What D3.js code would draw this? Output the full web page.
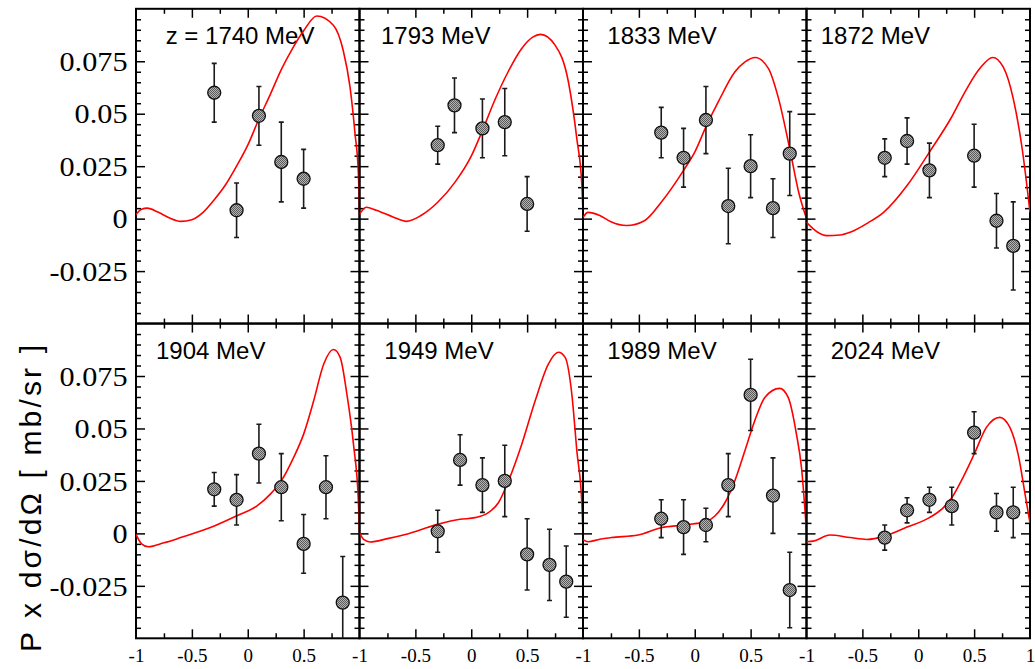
<!DOCTYPE html>
<html>
<head>
<meta charset="utf-8">
<script src="https://cdn.jsdelivr.net/npm/d3@7"></script>
<style>
  html, body { margin: 0; padding: 0; background: #fff; }
  svg { display: block; }
</style>
</head>
<body>
<script>
// ---------------- DATA ----------------
const panelLabels = ["z = 1740 MeV", "1793 MeV", "1833 MeV", "1872 MeV",
                     "1904 MeV", "1949 MeV", "1989 MeV", "2024 MeV"];

const cos1740 = [-0.3, -0.1, 0.1, 0.3, 0.5];
const val1740 = [0.060, 0.004, 0.049, 0.027, 0.019];
const err1740 = [0.014, 0.013, 0.014, 0.019, 0.014];

const cos1793 = [-0.3, -0.15, 0.1, 0.3, 0.5];
const val1793 = [0.035, 0.054, 0.043, 0.046, 0.007];
const err1793 = [0.009, 0.013, 0.014, 0.016, 0.013];

const cos1833 = [-0.3, -0.1, 0.1, 0.3, 0.5, 0.7, 0.85];
const val1833 = [0.041, 0.029, 0.047, 0.006, 0.025, 0.005, 0.031];
const err1833 = [0.012, 0.014, 0.016, 0.018, 0.015, 0.014, 0.020];

const cos1872 = [-0.3, -0.1, 0.1, 0.5, 0.7, 0.85];
const val1872 = [0.029, 0.037, 0.023, 0.030, -0.001, -0.013];
const err1872 = [0.009, 0.011, 0.013, 0.015, 0.013, 0.021];

const cos1904 = [-0.3, -0.1, 0.1, 0.3, 0.5, 0.7, 0.85];
const val1904 = [0.021, 0.016, 0.038, 0.022, -0.005, 0.022, -0.033];
const err1904 = [0.008, 0.012, 0.014, 0.016, 0.014, 0.015, 0.022];

const cos1949 = [-0.3, -0.1, 0.1, 0.3, 0.5, 0.7, 0.85];
const val1949 = [0.001, 0.035, 0.023, 0.025, -0.010, -0.015, -0.023];
const err1949 = [0.010, 0.012, 0.013, 0.017, 0.017, 0.017, 0.017];

const cos1989 = [-0.3, -0.1, 0.1, 0.3, 0.5, 0.7, 0.85];
const val1989 = [0.007, 0.003, 0.004, 0.023, 0.066, 0.018, -0.027];
const err1989 = [0.009, 0.013, 0.008, 0.015, 0.017, 0.018, 0.018];

const cos2024 = [-0.3, -0.1, 0.1, 0.3, 0.5, 0.7, 0.85];
const val2024 = [-0.002, 0.011, 0.016, 0.013, 0.048, 0.010, 0.010];
const err2024 = [0.006, 0.006, 0.006, 0.009, 0.010, 0.009, 0.012];

// model curves (cos theta, value)
const model1740 = [[-1, 0.002], [-0.95, 0.0045], [-0.9, 0.005], [-0.8, 0.003], [-0.7, 0.0003], [-0.6, -0.0013],
  [-0.5, -0.0005], [-0.4, 0.003], [-0.3, 0.009], [-0.2, 0.016], [-0.1, 0.025], [0, 0.035], [0.1, 0.0475],
  [0.2, 0.059], [0.3, 0.071], [0.4, 0.081], [0.5, 0.0895], [0.617, 0.0966], [0.766, 0.0922], [0.855, 0.080],
  [0.915, 0.0628], [0.96, 0.0405], [0.99, 0.0215], [1.0, 0.002]];
const model1793 = [[-1, 0.002], [-0.94, 0.0054], [-0.85, 0.004], [-0.7, 0.0008], [-0.58, -0.0013], [-0.45, 0.0015],
  [-0.3, 0.0078], [-0.145, 0.0174], [0.0, 0.0298], [0.1, 0.042], [0.21, 0.0564], [0.33, 0.070], [0.45, 0.081],
  [0.55, 0.0865], [0.62, 0.0878], [0.75, 0.0827], [0.87, 0.065], [0.945, 0.038], [0.99, 0.0158], [1.0, 0.003]];
const model1833 = [[-1, 0.0006], [-0.955, 0.003], [-0.85, 0.0015], [-0.75, -0.0015], [-0.61, -0.0033], [-0.45, -0.001],
  [-0.3, 0.0078], [-0.1, 0.023], [0.0, 0.0317], [0.1, 0.0437], [0.21, 0.0556], [0.36, 0.070], [0.45, 0.0747],
  [0.54, 0.0768], [0.66, 0.0715], [0.75, 0.0572], [0.85, 0.0333], [0.93, 0.0126], [1.0, 0.0]];
const model1872 = [[-1, -0.0018], [-0.9, -0.0065], [-0.82, -0.0081], [-0.7, -0.0078], [-0.61, -0.0065], [-0.45, -0.002],
  [-0.31, 0.003], [-0.1, 0.0158], [0.1, 0.0317], [0.29, 0.0476], [0.435, 0.062], [0.55, 0.0715], [0.667, 0.0768],
  [0.76, 0.0723], [0.85, 0.0572], [0.93, 0.0333], [1.0, 0.003]];
const model1904 = [[-1, -0.0005], [-0.95, -0.005], [-0.89, -0.0064], [-0.75, -0.0045], [-0.6, -0.002], [-0.3, 0.0035],
  [-0.1, 0.0083], [0.08, 0.013], [0.2, 0.0186], [0.3, 0.025], [0.41, 0.0361], [0.5, 0.0473], [0.59, 0.0632],
  [0.68, 0.0807], [0.767, 0.0876], [0.827, 0.0839], [0.887, 0.0664], [0.946, 0.0425], [0.99, 0.0154], [1.0, 0.001]];
const model1949 = [[-1, 0.0003], [-0.96, -0.003], [-0.906, -0.0041], [-0.75, -0.0025], [-0.59, -0.0005], [-0.3, 0.0043],
  [-0.1, 0.0067], [0.035, 0.0075], [0.153, 0.0099], [0.243, 0.0146], [0.333, 0.025], [0.452, 0.0425], [0.572, 0.0632],
  [0.69, 0.0807], [0.78, 0.0863], [0.84, 0.0839], [0.9, 0.0664], [0.945, 0.0393], [0.99, 0.0139], [1.0, 0.0]];
const model1989 = [[-1, -0.003], [-0.955, -0.004], [-0.85, -0.0028], [-0.746, -0.002], [-0.507, -0.0008], [-0.3, 0.0027],
  [-0.1, 0.004], [0.1, 0.0056], [0.18, 0.0083], [0.27, 0.0146], [0.358, 0.025], [0.448, 0.0393], [0.537, 0.0537],
  [0.627, 0.0648], [0.76, 0.0691], [0.836, 0.0648], [0.91, 0.0473], [0.955, 0.0314], [1.0, 0.001]];
const model2024 = [[-1, -0.004], [-0.94, -0.0037], [-0.79, -0.0008], [-0.61, -0.002], [-0.46, -0.0029], [-0.3, -0.0013],
  [-0.1, 0.003], [0.1, 0.0075], [0.225, 0.0123], [0.3, 0.017], [0.4, 0.0266], [0.5, 0.0377], [0.61, 0.0505],
  [0.73, 0.0553], [0.82, 0.0505], [0.9, 0.0361], [0.956, 0.0186], [1.0, 0.005]];

const yTickLabels = [-0.025, 0, 0.025, 0.05, 0.075];
const xTickLabels = [-1, -0.5, 0, 0.5];

// ---------------- LAYOUT ----------------
const panels = [
  [cos1740, val1740, err1740, model1740], [cos1793, val1793, err1793, model1793],
  [cos1833, val1833, err1833, model1833], [cos1872, val1872, err1872, model1872],
  [cos1904, val1904, err1904, model1904], [cos1949, val1949, err1949, model1949],
  [cos1989, val1989, err1989, model1989], [cos2024, val2024, err2024, model2024]
];
const labelOffsets = [29.7, 21.5, 24.3, 14.2, 20, 24.8, 24.3, 24.2];

const W = 1035, H = 669;
const marginLeft = 136, marginTop = 8.8, pw = 223.5, ph = 314.75;
const serif = "'Liberation Serif', 'Times New Roman', Times, serif";
const sans = "'Liberation Sans', Arial, Helvetica, sans-serif";

const svg = d3.select("body").append("svg").attr("width", W).attr("height", H);
const defs = svg.append("defs");
const pat = defs.append("pattern").attr("id", "dots")
  .attr("width", 2).attr("height", 2).attr("patternUnits", "userSpaceOnUse");
pat.append("rect").attr("width", 2).attr("height", 2).attr("fill", "#b4b4b4");
pat.append("rect").attr("x", 0).attr("y", 0).attr("width", 1).attr("height", 1).attr("fill", "#5a5a5a");
pat.append("rect").attr("x", 1).attr("y", 1).attr("width", 1).attr("height", 1).attr("fill", "#5a5a5a");

const yMajor = [-0.025, 0, 0.025, 0.05, 0.075];
const yMinor = d3.range(-45, 100, 5).filter(d => d % 25 !== 0).map(d => d / 1000);
const xMajor = [-0.5, 0, 0.5];
const xMinor = [-0.75, -0.25, 0.25, 0.75];

const fmt = d => String(d);

panels.forEach((p, i) => {
  const col = i % 4, row = Math.floor(i / 4);
  const px = marginLeft + col * pw, py = marginTop + row * ph;
  const x = d3.scaleLinear().domain([-1, 1]).range([px, px + pw]);
  const y = d3.scaleLinear().domain([-0.05, 0.1]).range([py + ph, py]);
  const g = svg.append("g");

  defs.append("clipPath").attr("id", "clip" + i)
    .append("rect").attr("x", px).attr("y", py).attr("width", pw).attr("height", ph);

  const tickStyle = sel => {
    sel.select(".domain").remove();
    sel.selectAll("line").attr("stroke", "#000").attr("stroke-width", 1.5);
  };
  g.append("g").attr("transform", `translate(0,${py + ph})`)
    .call(d3.axisBottom(x).tickValues(xMajor).tickSize(-9).tickFormat("")).call(tickStyle);
  g.append("g").attr("transform", `translate(0,${py + ph})`)
    .call(d3.axisBottom(x).tickValues(xMinor).tickSize(-5).tickFormat("")).call(tickStyle);
  g.append("g").attr("transform", `translate(0,${py})`)
    .call(d3.axisTop(x).tickValues(xMajor).tickSize(-9).tickFormat("")).call(tickStyle);
  g.append("g").attr("transform", `translate(0,${py})`)
    .call(d3.axisTop(x).tickValues(xMinor).tickSize(-5).tickFormat("")).call(tickStyle);
  g.append("g").attr("transform", `translate(${px},0)`)
    .call(d3.axisLeft(y).tickValues(yMajor).tickSize(-9).tickFormat("")).call(tickStyle);
  g.append("g").attr("transform", `translate(${px},0)`)
    .call(d3.axisLeft(y).tickValues(yMinor).tickSize(-5).tickFormat("")).call(tickStyle);
  g.append("g").attr("transform", `translate(${px + pw},0)`)
    .call(d3.axisRight(y).tickValues(yMajor).tickSize(-9).tickFormat("")).call(tickStyle);
  g.append("g").attr("transform", `translate(${px + pw},0)`)
    .call(d3.axisRight(y).tickValues(yMinor).tickSize(-5).tickFormat("")).call(tickStyle);

  g.append("rect").attr("x", px).attr("y", py).attr("width", pw).attr("height", ph)
    .attr("fill", "none").attr("stroke", "#000").attr("stroke-width", 2);

  if (col === 0) {
    const ya = g.append("g").attr("transform", `translate(${px},0)`)
      .call(d3.axisLeft(y).tickValues(yTickLabels).tickSize(0).tickPadding(8).tickFormat(fmt));
    ya.select(".domain").remove();
    ya.attr("font-family", serif).attr("font-size", 27);
    ya.selectAll("text")
      .attr("x", -8.5 / 1.12)
      .attr("transform", "scale(1.12,1)")
      .attr("dy", "0.34em")
      .attr("font-family", serif)
      .style("font-family", serif).style("font-size", "27px").attr("fill", "#000");
  }
  if (row === 1) {
    const vals = col === 3 ? xTickLabels.concat([1]) : xTickLabels;
    const xa = g.append("g").attr("transform", `translate(0,${py + ph})`)
      .call(d3.axisBottom(x).tickValues(vals).tickSize(0).tickFormat(fmt));
    xa.select(".domain").remove();
    xa.attr("font-family", serif).attr("font-size", 19);
    xa.selectAll("text").attr("y", 17).attr("dy", "0.35em")
      .attr("font-family", serif)
      .style("font-family", serif).style("font-size", "19px").attr("fill", "#000");
  }

  g.append("text").attr("x", px + labelOffsets[i]).attr("y", py + 35)
    .text(panelLabels[i])
    .style("font-family", sans).style("font-size", "24px").attr("fill", "#000");

  const clipped = g.append("g").attr("clip-path", `url(#clip${i})`);

  const line = d3.line().x(d => x(d[0])).y(d => y(d[1])).curve(d3.curveMonotoneX);
  clipped.append("path").datum(p[3]).attr("d", line)
    .attr("fill", "none").attr("stroke", "#ff0000").attr("stroke-width", 1.6);

  const pts = p[0].map((c, k) => ({ c, v: p[1][k], e: p[2][k] }));
  const eb = clipped.append("g").attr("stroke", "#1a1a1a").attr("stroke-width", 1.6);
  pts.forEach(d => {
    eb.append("line").attr("x1", x(d.c)).attr("x2", x(d.c))
      .attr("y1", y(d.v - d.e)).attr("y2", y(d.v + d.e));
    eb.append("line").attr("x1", x(d.c) - 2.5).attr("x2", x(d.c) + 2.5)
      .attr("y1", y(d.v - d.e)).attr("y2", y(d.v - d.e));
    eb.append("line").attr("x1", x(d.c) - 2.5).attr("x2", x(d.c) + 2.5)
      .attr("y1", y(d.v + d.e)).attr("y2", y(d.v + d.e));
  });
  clipped.selectAll("circle.pt").data(pts).enter().append("circle").attr("class", "pt")
    .attr("cx", d => x(d.c)).attr("cy", d => y(d.v)).attr("r", 6.5)
    .attr("fill", "url(#dots)").attr("stroke", "#111").attr("stroke-width", 1.3);
});

// y-axis title
svg.append("text")
  .attr("transform", "translate(41,498.5) rotate(-90)")
  .attr("text-anchor", "middle")
  .attr("textLength", 307).attr("lengthAdjust", "spacing")
  .style("font-family", sans).style("font-size", "30px").attr("fill", "#000")
  .text("P x dσ/dΩ [ mb/sr ]");
</script>
</body>
</html>
